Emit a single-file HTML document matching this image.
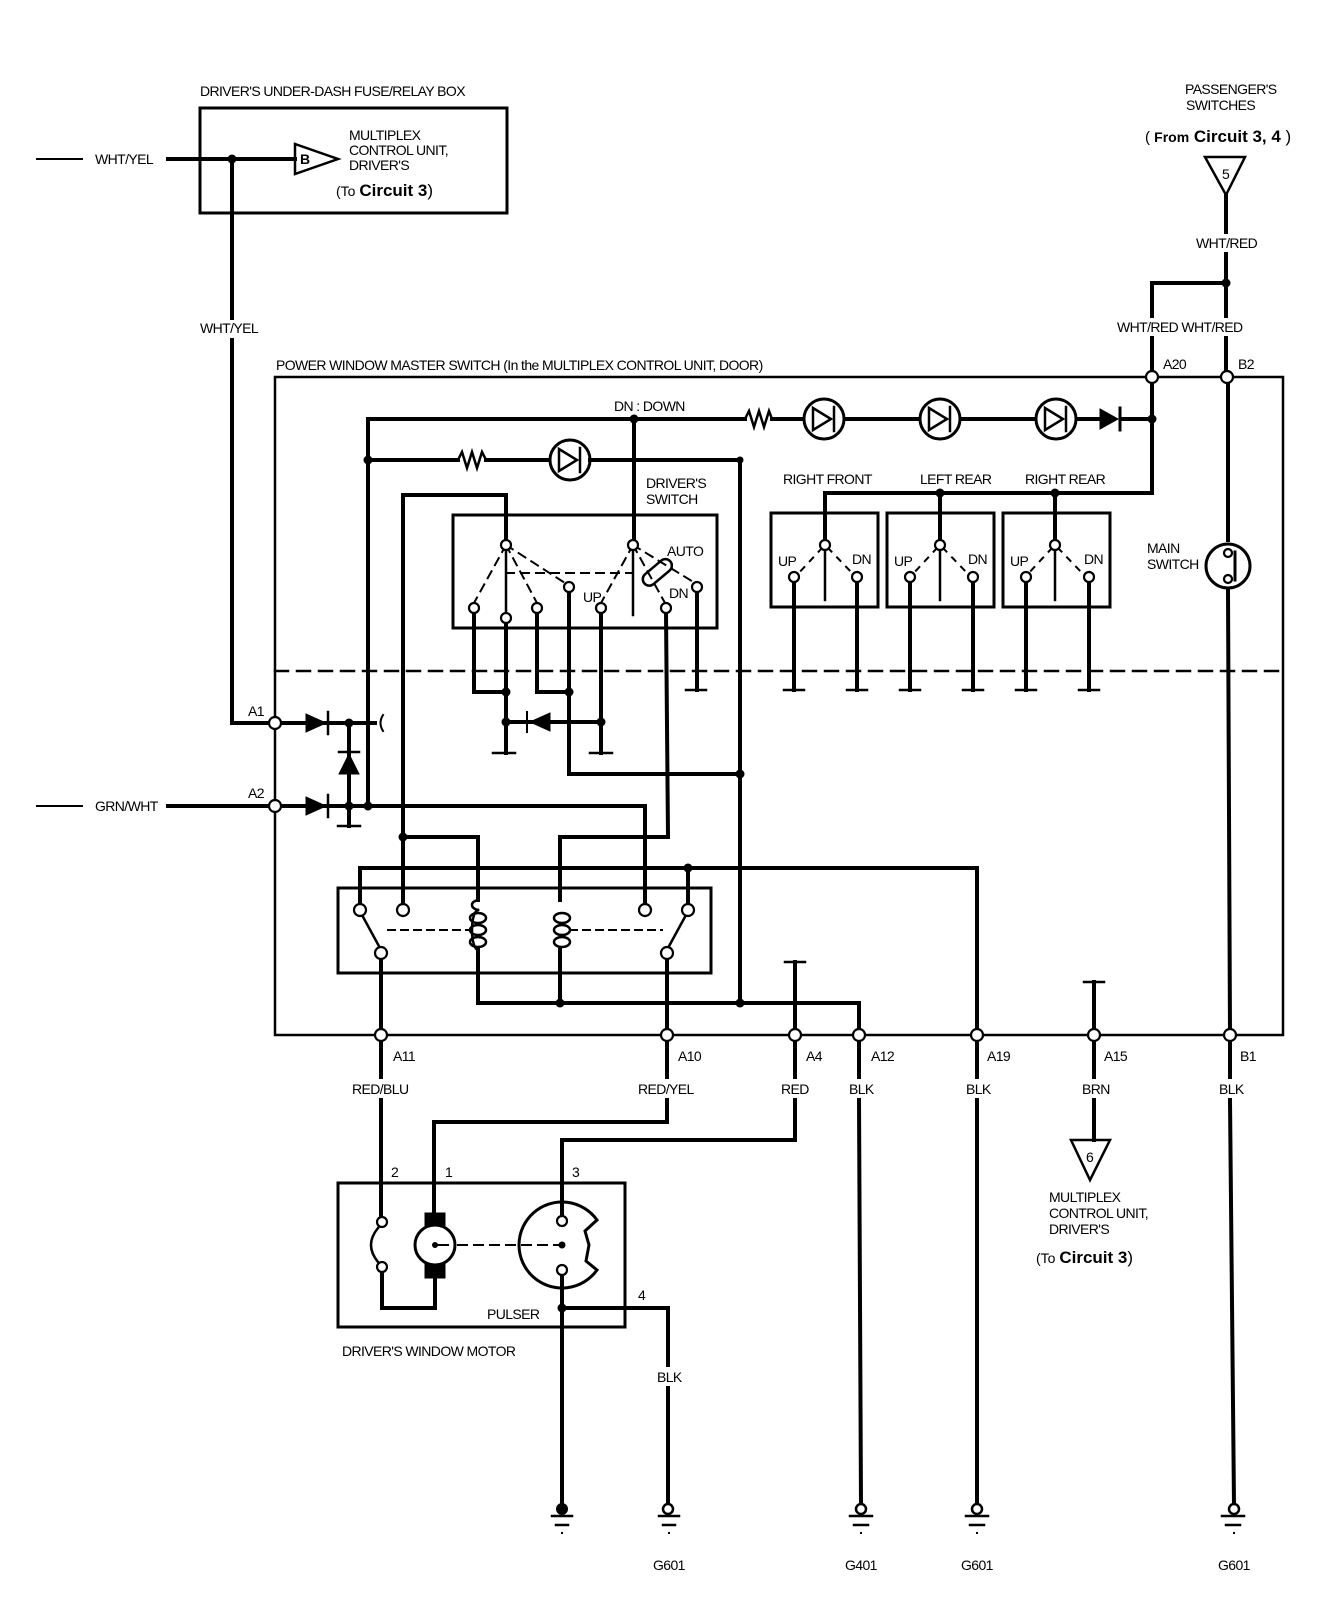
<!DOCTYPE html>
<html><head><meta charset="utf-8"><style>
html,body{margin:0;padding:0;background:#fff;}
svg{display:block;}
text{font-family:"Liberation Sans",sans-serif;font-size:14px;fill:#000;letter-spacing:-0.6px;}
.b{font-weight:bold;font-size:17px;letter-spacing:0;}
</style></head><body>
<svg width="1344" height="1614" viewBox="0 0 1344 1614" xmlns="http://www.w3.org/2000/svg">
<g fill="none" stroke="#000" stroke-width="4" stroke-linecap="square">
<!-- top-left fuse box -->
<rect x="200" y="108" width="307" height="105" stroke-width="3"/>
<line x1="37" y1="159" x2="82" y2="159" stroke-width="2"/>
<line x1="168" y1="159" x2="295" y2="159"/>
<polygon points="295,144 295,174 338,159" stroke-width="2.5"/>
<line x1="232" y1="159" x2="232" y2="318"/>
<line x1="232" y1="340" x2="232" y2="723"/>
<line x1="232" y1="723" x2="275" y2="723"/>
<!-- master switch outline -->
<path d="M275,377 H1283 V1035 H275 Z" stroke-width="2.5"/>
<!-- dashed line -->
<line x1="275" y1="671" x2="1283" y2="671" stroke-width="2.5" stroke-dasharray="13,9"/>
<!-- WHT/RED -->
<polygon points="1205,157 1245,157 1226,195" stroke-width="2.5"/>
<line x1="1226" y1="195" x2="1226" y2="232"/>
<line x1="1226" y1="254" x2="1226" y2="316"/>
<line x1="1152" y1="283" x2="1226" y2="283"/>
<line x1="1152" y1="283" x2="1152" y2="316"/>
<line x1="1152" y1="338" x2="1152" y2="377"/>
<line x1="1226" y1="338" x2="1226" y2="377"/>
<line x1="1152" y1="377" x2="1152" y2="419"/>
<!-- B2 to B1 -->
<line x1="1228" y1="377" x2="1228" y2="540"/>
<line x1="1228" y1="590" x2="1230" y2="1035"/>
<circle cx="1228" cy="566" r="22" stroke-width="3"/>
<line x1="1235" y1="552" x2="1235" y2="580" stroke-width="3"/>
<!-- DN line -->
<line x1="368" y1="419" x2="745" y2="419"/>
<path d="M745,419 l4,-8 l5,16 l5,-16 l5,16 l5,-16 l3,8" stroke-width="2.5"/>
<line x1="772" y1="419" x2="1100" y2="419"/>
<line x1="1122" y1="419" x2="1152" y2="419"/>
<line x1="1152" y1="419" x2="1152" y2="493"/>
<line x1="825" y1="493" x2="1152" y2="493"/>
<!-- lamps -->
<g stroke-width="3" fill="#fff">
<circle cx="824" cy="419" r="20"/><circle cx="940" cy="419" r="20"/><circle cx="1056" cy="419" r="20"/>
<circle cx="570" cy="460" r="20"/>
</g>
<g stroke-width="2.5">
<polygon points="813,408 813,430 831,419"/><line x1="834" y1="407" x2="834" y2="431"/>
<polygon points="929,408 929,430 947,419"/><line x1="950" y1="407" x2="950" y2="431"/>
<polygon points="1045,408 1045,430 1063,419"/><line x1="1066" y1="407" x2="1066" y2="431"/>
<polygon points="559,449 559,471 577,460"/><line x1="580" y1="448" x2="580" y2="472"/>
</g>
<polygon points="1100,409 1100,429 1118,419" fill="#000" stroke-width="1"/>
<line x1="1120" y1="408" x2="1120" y2="430" stroke-width="3"/>
<!-- second line -->
<line x1="368" y1="460" x2="458" y2="460"/>
<path d="M458,460 l4,-8 l5,16 l5,-16 l5,16 l5,-16 l4,8" stroke-width="2.5"/>
<line x1="486" y1="460" x2="548" y2="460"/>
<line x1="590" y1="460" x2="740" y2="460"/>
<line x1="740" y1="460" x2="740" y2="1003"/>
<line x1="368" y1="419" x2="368" y2="806"/>
<!-- 402 line -->
<line x1="403" y1="495" x2="403" y2="868"/>
<line x1="403" y1="495" x2="506" y2="495"/>
<line x1="506" y1="495" x2="506" y2="540"/>
<line x1="634" y1="419" x2="634" y2="540"/>
<!-- driver's switch box -->
<rect x="453" y="515" width="264" height="113" stroke-width="3"/>
<g stroke-width="2" stroke-dasharray="8,7">
<line x1="506" y1="545" x2="474" y2="603"/>
<line x1="506" y1="545" x2="537" y2="603"/>
<line x1="506" y1="545" x2="565" y2="583"/>
<line x1="506" y1="573" x2="632" y2="573"/>
<line x1="633" y1="545" x2="601" y2="603"/>
<line x1="633" y1="545" x2="665" y2="603"/>
<line x1="633" y1="545" x2="695" y2="583"/>
</g>
<line x1="506" y1="550" x2="506" y2="612" stroke-width="2.5"/>
<line x1="633" y1="550" x2="633" y2="615" stroke-width="2.5"/>
<rect x="640" y="566" width="34" height="13" rx="6.5" transform="rotate(-40 657 572)" stroke-width="2.5"/>
<!-- driver switch lower wiring -->
<line x1="474" y1="613" x2="474" y2="692"/><line x1="474" y1="692" x2="506" y2="692"/>
<line x1="506" y1="623" x2="506" y2="753"/>
<line x1="537" y1="613" x2="537" y2="692"/><line x1="537" y1="692" x2="569" y2="692"/>
<line x1="569" y1="592" x2="569" y2="774"/><line x1="569" y1="774" x2="740" y2="774"/>
<line x1="601" y1="613" x2="601" y2="753"/>
<line x1="506" y1="722" x2="601" y2="722"/>
<polygon points="530,722 550,713 550,731" fill="#000" stroke-width="1"/>
<line x1="527" y1="712" x2="527" y2="732" stroke-width="2"/>
<line x1="666" y1="613" x2="668" y2="837"/>
<line x1="697" y1="592" x2="697" y2="690"/>
<g stroke-width="2.5">
<path d="M493,753 h22 M590,753 h22 M686,690 h20"/>
</g>
<!-- passenger switches -->
<g stroke-width="3"><rect x="771" y="513" width="107" height="94"/><rect x="887" y="513" width="107" height="94"/><rect x="1003" y="513" width="107" height="94"/></g>
<line x1="825" y1="493" x2="825" y2="540"/><line x1="940" y1="493" x2="940" y2="540"/><line x1="1055" y1="493" x2="1055" y2="540"/>
<g stroke-width="2.5">
<line x1="825" y1="545" x2="825" y2="600"/><line x1="940" y1="545" x2="940" y2="600"/><line x1="1055" y1="545" x2="1055" y2="600"/>
</g>
<g stroke-width="2" stroke-dasharray="5,8">
<line x1="822" y1="548" x2="797" y2="575"/><line x1="828" y1="548" x2="854" y2="575"/>
<line x1="937" y1="548" x2="912" y2="575"/><line x1="943" y1="548" x2="969" y2="575"/>
<line x1="1052" y1="548" x2="1027" y2="575"/><line x1="1058" y1="548" x2="1084" y2="575"/>
</g>
<g>
<line x1="794" y1="582" x2="794" y2="690"/><line x1="857" y1="582" x2="857" y2="690"/>
<line x1="910" y1="582" x2="910" y2="690"/><line x1="973" y1="582" x2="973" y2="690"/>
<line x1="1026" y1="582" x2="1026" y2="690"/><line x1="1089" y1="582" x2="1089" y2="690"/>
</g>
<g stroke-width="2.5"><path d="M784,690h20 M847,690h20 M900,690h20 M963,690h20 M1016,690h20 M1079,690h20"/></g>
<!-- A1/A2 diodes -->
<line x1="275" y1="723" x2="375" y2="723"/>
<polygon points="306,714 306,732 326,723" fill="#000" stroke-width="1"/>
<line x1="328" y1="712" x2="328" y2="734" stroke-width="2.5"/>
<path d="M383,715 q-5,8 0,16" stroke-width="2"/>
<line x1="349" y1="723" x2="349" y2="826"/>
<polygon points="349,754 339,774 359,774" fill="#000" stroke-width="1"/>
<line x1="339" y1="752" x2="359" y2="752" stroke-width="2.5"/>
<line x1="338" y1="826" x2="360" y2="826" stroke-width="2.5"/>
<line x1="37" y1="806" x2="82" y2="806" stroke-width="2"/>
<line x1="168" y1="806" x2="275" y2="806"/>
<line x1="275" y1="806" x2="645" y2="806"/>
<polygon points="306,797 306,815 326,806" fill="#000" stroke-width="1"/>
<line x1="328" y1="795" x2="328" y2="817" stroke-width="2.5"/>
<line x1="645" y1="806" x2="645" y2="905"/>
<!-- relay -->
<line x1="403" y1="837" x2="478" y2="837"/><line x1="478" y1="837" x2="478" y2="900"/>
<line x1="560" y1="837" x2="668" y2="837"/><line x1="560" y1="837" x2="560" y2="900"/>
<line x1="360" y1="868" x2="977" y2="868"/>
<line x1="360" y1="868" x2="360" y2="905"/>
<line x1="688" y1="868" x2="688" y2="905"/>
<line x1="977" y1="868" x2="977" y2="1035"/>
<rect x="338" y="888" width="373" height="85" stroke-width="3"/>
<line x1="403" y1="868" x2="403" y2="905"/>
<g stroke-width="2.5">
<line x1="362" y1="915" x2="380" y2="948"/><line x1="686" y1="915" x2="668" y2="948"/>
</g>
<g stroke-width="2" stroke-dasharray="7,6">
<line x1="388" y1="930" x2="470" y2="930"/><line x1="570" y1="930" x2="662" y2="930"/>
</g>
<g stroke-width="2.5">
<path d="M478,900 c-8,2 -8,8 0,10 M478,910 c-8,2 -8,38 0,40"/>
<ellipse cx="478" cy="918" rx="8" ry="5"/><ellipse cx="478" cy="930" rx="8" ry="5"/><ellipse cx="478" cy="942" rx="8" ry="5"/>
<ellipse cx="562" cy="918" rx="8" ry="5"/><ellipse cx="562" cy="930" rx="8" ry="5"/><ellipse cx="562" cy="942" rx="8" ry="5"/>
</g>
<line x1="478" y1="950" x2="478" y2="1003"/><line x1="560" y1="950" x2="560" y2="1003"/>
<line x1="478" y1="1003" x2="859" y2="1003"/>
<line x1="859" y1="1003" x2="859" y2="1035"/>
<line x1="381" y1="958" x2="381" y2="1035"/>
<line x1="667" y1="958" x2="667" y2="1035"/>
<line x1="795" y1="962" x2="795" y2="1035"/>
<line x1="785" y1="962" x2="805" y2="962" stroke-width="2.5"/>
<line x1="1094" y1="982" x2="1094" y2="1035"/>
<line x1="1084" y1="982" x2="1104" y2="982" stroke-width="2.5"/>
<!-- below -->
<line x1="381" y1="1035" x2="381" y2="1077"/><line x1="381" y1="1100" x2="381" y2="1218"/>
<line x1="667" y1="1035" x2="667" y2="1077"/><line x1="667" y1="1100" x2="667" y2="1122"/>
<line x1="667" y1="1122" x2="434" y2="1122"/><line x1="434" y1="1122" x2="434" y2="1215"/>
<line x1="795" y1="1035" x2="795" y2="1077"/><line x1="795" y1="1100" x2="795" y2="1140"/>
<line x1="795" y1="1140" x2="562" y2="1140"/><line x1="562" y1="1140" x2="562" y2="1216"/>
<line x1="859" y1="1035" x2="859" y2="1077"/><line x1="859" y1="1100" x2="861" y2="1505"/>
<line x1="977" y1="1035" x2="977" y2="1077"/><line x1="977" y1="1100" x2="977" y2="1505"/>
<line x1="1094" y1="1035" x2="1094" y2="1077"/><line x1="1094" y1="1100" x2="1094" y2="1140"/>
<polygon points="1071,1140 1110,1140 1090,1180" stroke-width="2.5"/>
<line x1="1230" y1="1035" x2="1230" y2="1077"/><line x1="1230" y1="1100" x2="1234" y2="1505"/>
<!-- motor -->
<rect x="338" y="1183" width="287" height="144" stroke-width="3"/>
<path d="M378,1228 q-14,17 0,34" stroke-width="2.5"/>
<line x1="382" y1="1272" x2="382" y2="1308"/><line x1="382" y1="1308" x2="435" y2="1308"/><line x1="435" y1="1308" x2="435" y2="1280"/>
<rect x="425" y="1213" width="20" height="14" fill="#000" stroke-width="1"/>
<rect x="425" y="1264" width="20" height="14" fill="#000" stroke-width="1"/>
<circle cx="435" cy="1245" r="20" stroke-width="3" fill="#fff"/>
<line x1="435" y1="1245" x2="448" y2="1245" stroke-width="2"/>
<line x1="458" y1="1245" x2="560" y2="1245" stroke-width="2" stroke-dasharray="9,7"/>
<path d="M597,1220 A43,43 0 1,0 597,1270 L586,1261 L589,1245 L585,1231 Z" stroke-width="3"/>
<line x1="562" y1="1277" x2="562" y2="1505"/>
<line x1="562" y1="1308" x2="668" y2="1308"/>
<line x1="668" y1="1308" x2="668" y2="1365"/><line x1="668" y1="1388" x2="668" y2="1505"/>
<!-- grounds -->
<g stroke-width="2.5">
<path d="M552,1516 h20 M556,1525 h12 M659,1516 h20 M663,1525 h12 M850,1516 h22 M854,1525 h14 M966,1516 h22 M970,1525 h14 M1222,1516 h22 M1226,1525 h14"/>
</g>
<g stroke-width="2.5" fill="#fff">
<circle cx="668" cy="1509" r="5"/><circle cx="861" cy="1509" r="5"/><circle cx="977" cy="1509" r="5"/><circle cx="1234" cy="1509" r="5"/>
</g>
</g>
<g fill="#000">
<circle cx="562" cy="1509" r="6"/>
<rect x="561" y="1532" width="2" height="2"/><rect x="668" y="1532" width="2" height="2"/><rect x="860" y="1532" width="2" height="2"/><rect x="976" y="1532" width="2" height="2"/><rect x="1233" y="1532" width="2" height="2"/>
<!-- junction dots -->
<circle cx="232" cy="159" r="4.5"/><circle cx="1226" cy="283" r="4.5"/><circle cx="1152" cy="419" r="4.5"/>
<circle cx="634" cy="419" r="4.5"/><circle cx="368" cy="460" r="4.5"/><circle cx="940" cy="493" r="4.5"/><circle cx="1055" cy="493" r="4.5"/>
<circle cx="740" cy="460" r="3.5"/><circle cx="506" cy="692" r="4.5"/><circle cx="569" cy="692" r="4.5"/><circle cx="506" cy="722" r="4.5"/><circle cx="601" cy="722" r="4.5"/>
<circle cx="740" cy="774" r="4.5"/><circle cx="349" cy="723" r="4.5"/><circle cx="349" cy="806" r="4.5"/><circle cx="368" cy="806" r="4.5"/>
<circle cx="403" cy="837" r="4.5"/><circle cx="688" cy="868" r="4.5"/><circle cx="560" cy="1003" r="4.5"/><circle cx="740" cy="1003" r="4.5"/>
<circle cx="562" cy="1308" r="4.5"/><circle cx="562" cy="1245" r="3.5"/><circle cx="435" cy="1245" r="3"/>
</g>
<!-- pins -->
<g fill="#fff" stroke="#000" stroke-width="2.2">
<circle cx="275" cy="723" r="6"/><circle cx="275" cy="806" r="6"/>
<circle cx="1152" cy="377" r="6"/><circle cx="1227" cy="377" r="6"/>
<circle cx="381" cy="1035" r="6"/><circle cx="667" cy="1035" r="6"/><circle cx="795" cy="1035" r="6"/><circle cx="859" cy="1035" r="6"/><circle cx="977" cy="1035" r="6"/><circle cx="1094" cy="1035" r="6"/><circle cx="1230" cy="1035" r="6"/>
<circle cx="506" cy="545" r="5"/><circle cx="633" cy="545" r="5"/>
<circle cx="474" cy="608" r="5"/><circle cx="506" cy="618" r="5"/><circle cx="537" cy="608" r="5"/><circle cx="569" cy="587" r="5"/><circle cx="601" cy="608" r="5"/><circle cx="666" cy="608" r="5"/><circle cx="697" cy="587" r="5"/>
<circle cx="825" cy="545" r="5"/><circle cx="940" cy="545" r="5"/><circle cx="1055" cy="545" r="5"/>
<circle cx="794" cy="577" r="5"/><circle cx="857" cy="577" r="5"/><circle cx="910" cy="577" r="5"/><circle cx="973" cy="577" r="5"/><circle cx="1026" cy="577" r="5"/><circle cx="1089" cy="577" r="5"/>
<circle cx="1228" cy="553" r="4"/><circle cx="1228" cy="579" r="4"/>
<circle cx="360" cy="910" r="6"/><circle cx="403" cy="910" r="6"/><circle cx="381" cy="953" r="6"/>
<circle cx="645" cy="910" r="6"/><circle cx="688" cy="910" r="6"/><circle cx="667" cy="953" r="6"/>
<circle cx="382" cy="1222" r="5"/><circle cx="382" cy="1267" r="5"/>
<circle cx="562" cy="1221" r="5"/><circle cx="562" cy="1270" r="5"/>
</g>
<!-- text -->
<text x="200" y="96">DRIVER'S UNDER-DASH FUSE/RELAY BOX</text>
<text x="95" y="164">WHT/YEL</text>
<text x="300" y="164" font-size="11" font-weight="bold">B</text>
<text x="349" y="140">MULTIPLEX</text>
<text x="349" y="155">CONTROL UNIT,</text>
<text x="349" y="170">DRIVER'S</text>
<text x="336" y="196" class="b"><tspan font-size="14" font-weight="normal">(To </tspan>Circuit 3<tspan font-weight="normal">)</tspan></text>
<text x="200" y="333">WHT/YEL</text>
<text x="276" y="370">POWER WINDOW MASTER SWITCH (In the MULTIPLEX CONTROL UNIT, DOOR)</text>
<text x="1185" y="94">PASSENGER'S</text>
<text x="1186" y="110">SWITCHES</text>
<text x="1145" y="142" class="b"><tspan font-size="15" font-weight="normal">( </tspan><tspan font-size="14">From</tspan> Circuit 3, 4<tspan font-weight="normal"> )</tspan></text>
<text x="1222" y="179" font-size="10">5</text>
<text x="1196" y="248">WHT/RED</text>
<text x="1117" y="332">WHT/RED WHT/RED</text>
<text x="1163" y="369">A20</text><text x="1238" y="369">B2</text>
<text x="614" y="411">DN : DOWN</text>
<text x="646" y="488">DRIVER'S</text><text x="646" y="504">SWITCH</text>
<text x="667" y="556">AUTO</text>
<text x="669" y="598">DN</text>
<text x="583" y="602">UP</text>
<text x="783" y="484">RIGHT FRONT</text>
<text x="920" y="484">LEFT REAR</text>
<text x="1025" y="484">RIGHT REAR</text>
<g font-size="13">
<text x="778" y="566">UP</text><text x="852" y="564">DN</text>
<text x="894" y="566">UP</text><text x="968" y="564">DN</text>
<text x="1010" y="566">UP</text><text x="1084" y="564">DN</text>
</g>
<text x="1147" y="553">MAIN</text><text x="1147" y="569">SWITCH</text>
<text x="248" y="716">A1</text><text x="248" y="798">A2</text>
<text x="95" y="811">GRN/WHT</text>
<g font-size="13">
<text x="393" y="1061">A11</text><text x="678" y="1061">A10</text><text x="806" y="1061">A4</text><text x="871" y="1061">A12</text><text x="987" y="1061">A19</text><text x="1104" y="1061">A15</text><text x="1240" y="1061">B1</text>
</g>
<text x="352" y="1094">RED/BLU</text>
<text x="638" y="1094">RED/YEL</text>
<text x="781" y="1094">RED</text>
<text x="849" y="1094">BLK</text>
<text x="966" y="1094">BLK</text>
<text x="1082" y="1094">BRN</text>
<text x="1219" y="1094">BLK</text>
<text x="1086" y="1162" font-size="10">6</text>
<text x="1049" y="1202">MULTIPLEX</text>
<text x="1049" y="1218">CONTROL UNIT,</text>
<text x="1049" y="1234">DRIVER'S</text>
<text x="1036" y="1263" class="b"><tspan font-size="14" font-weight="normal">(To </tspan>Circuit 3<tspan font-weight="normal">)</tspan></text>
<text x="391" y="1177">2</text><text x="445" y="1177">1</text><text x="572" y="1177">3</text>
<text x="638" y="1300">4</text>
<text x="487" y="1319">PULSER</text>
<text x="342" y="1356">DRIVER'S WINDOW MOTOR</text>
<text x="657" y="1382">BLK</text>
<text x="653" y="1570">G601</text><text x="845" y="1570">G401</text><text x="961" y="1570">G601</text><text x="1218" y="1570">G601</text>
</svg>
</body></html>
